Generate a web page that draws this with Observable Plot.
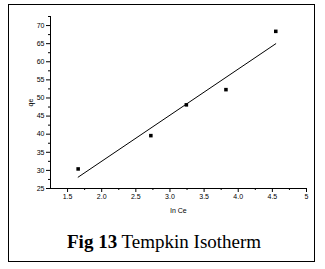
<!DOCTYPE html>
<html>
<head>
<meta charset="utf-8">
<script src="https://cdn.jsdelivr.net/npm/d3@7"></script>
<script src="https://cdn.jsdelivr.net/npm/@observablehq/plot@0.6"></script>
<style>
  html, body { margin: 0; padding: 0; background: #fff; }
  #wrap { position: relative; width: 325px; height: 269px; overflow: hidden; background: #fff; }
  #frame { position: absolute; left: 8px; top: 4px; width: 305px; height: 256px; border: 1.5px solid #000; }
  #chart { position: absolute; left: 0; top: 0; }
  #title { position: absolute; left: 67px; top: 231px; font-family: "Liberation Serif", "Times New Roman", serif; font-size: 19px; color: #000; white-space: nowrap; }
</style>
</head>
<body>
<div id="wrap">
  <div id="frame"></div>
  <div id="chart"></div>
  <div id="title"><b>Fig 13</b> Tempkin Isotherm</div>
</div>
<script>
// Data
const lnCe = [1.655, 2.72, 3.24, 3.82, 4.55];
const qe = [30.4, 39.6, 48.1, 52.3, 68.4];

// Axis ticks
const xMajor = [1.5, 2.0, 2.5, 3.0, 3.5, 4.0, 4.5, 5.0];
const xMajorLabels = ["1.5", "2.0", "2.5", "3.0", "3.5", "4.0", "4.5", "5"];
const xMinor = [1.75, 2.25, 2.75, 3.25, 3.75, 4.25, 4.75];
const yMajor = [25, 30, 35, 40, 45, 50, 55, 60, 65, 70];
const yMinor = [27.5, 32.5, 37.5, 42.5, 47.5, 52.5, 57.5, 62.5, 67.5, 72.5];
const xDomain = [1.25, 5.0];
const yDomain = [25, 72.5];

const data = lnCe.map((x, i) => ({x, y: qe[i]}));

const chart = Plot.plot({
  width: 325,
  height: 230,
  marginLeft: 50,
  marginRight: 19,
  marginTop: 16,
  marginBottom: 42,
  style: {fontFamily: "'Liberation Sans', Arial, sans-serif", fontSize: "7px", background: "transparent", color: "#000"},
  x: {domain: xDomain},
  y: {domain: yDomain},
  marks: [
    Plot.ruleX([xDomain[0]], {stroke: "#000", strokeWidth: 1}),
    Plot.ruleY([yDomain[0]], {stroke: "#000", strokeWidth: 1}),
    Plot.axisX(xMajor, {tickSize: 4, tickPadding: 2, tickFormat: d => xMajorLabels[xMajor.indexOf(d)], label: "ln Ce", labelAnchor: "center", labelArrow: false, labelOffset: 24, fill: "#000"}),
    Plot.axisX(xMinor, {tickSize: 2, fill: "none", label: null}),
    Plot.axisY(yMajor, {tickSize: 4, tickPadding: 2, tickFormat: d => String(d), label: "qe", labelAnchor: "center", labelArrow: false, labelOffset: 22, fill: "#000"}),
    Plot.axisY(yMinor, {tickSize: 2, fill: "none", label: null}),
    Plot.linearRegressionY(data, {x: "x", y: "y", ci: 0, stroke: "#000", strokeWidth: 1}),
    Plot.dot(data, {x: "x", y: "y", symbol: "square", r: 2, fill: "#000", stroke: "none"})
  ]
});
document.getElementById("chart").appendChild(chart);
</script>
</body>
</html>
